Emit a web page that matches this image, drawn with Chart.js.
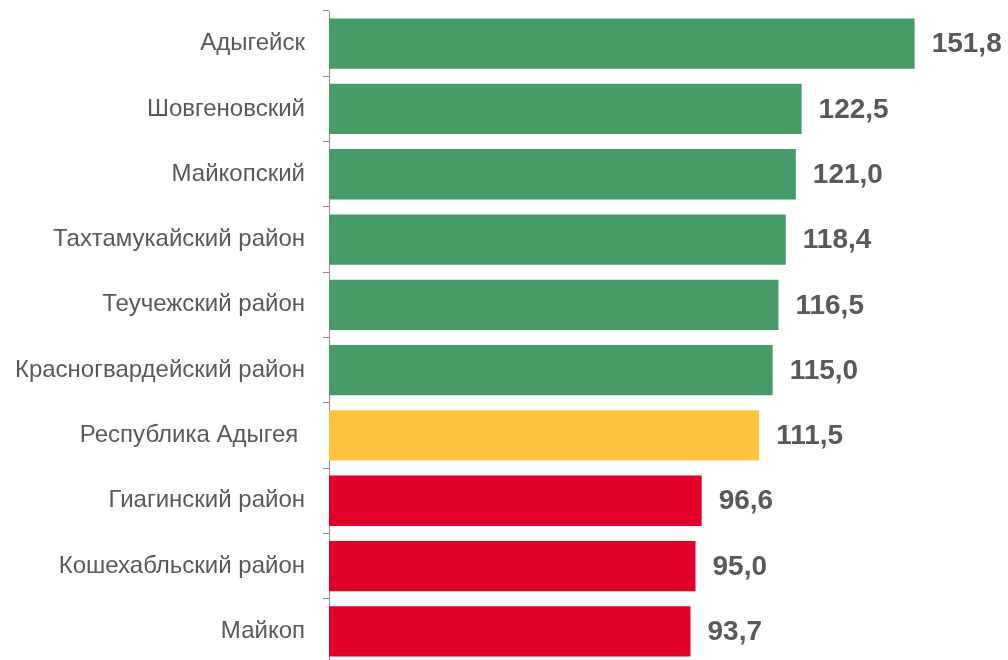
<!DOCTYPE html>
<html><head><meta charset="utf-8">
<script src="https://cdn.jsdelivr.net/npm/chart.js@4"></script>
<style>html,body{margin:0;padding:0;background:#fff;overflow:hidden}#wrap{width:1008px;height:664px}</style>
</head><body><div id="wrap"><canvas id="c"></canvas></div>
<script>
const categories = ["Адыгейск","Шовгеновский","Майкопский","Тахтамукайский район","Теучежский район","Красногвардейский район","Республика Адыгея ","Гиагинский район","Кошехабльский район","Майкоп"];
const values = [151.8,122.5,121.0,118.4,116.5,115.0,111.5,96.6,95.0,93.7];
const barColors = ["#469B68","#469B68","#469B68","#469B68","#469B68","#469B68","#FFC43F","#E2002B","#E2002B","#E2002B"];

const valueLabels = {
  id:'valueLabels',
  afterDatasetsDraw(chart){
    const ctx = chart.ctx;
    const meta = chart.getDatasetMeta(0);
    ctx.save();
    ctx.font = 'bold 28px "Liberation Sans", Arial, sans-serif';
    ctx.fillStyle = '#595959';
    ctx.textAlign = 'left';
    ctx.textBaseline = 'middle';
    meta.data.forEach((bar,i)=>{
      ctx.fillText(values[i].toFixed(1).replace('.',','), bar.x + 17, bar.y + 1);
    });
    ctx.restore();
  }
};

new Chart(document.getElementById('c'), {
  type:'bar',
  data:{labels:categories, datasets:[{data:values, backgroundColor:barColors, borderWidth:0, categoryPercentage:1, barPercentage:0.77}]},
  options:{
    indexAxis:'y', responsive:true, maintainAspectRatio:false, animation:false,
    layout:{padding:{top:11,bottom:0,left:0,right:0}},
    plugins:{legend:{display:false}, tooltip:{enabled:false}},
    scales:{
      x:{display:false, min:0, max:176},
      y:{
        afterFit(s){ s.width = 329; s.paddingTop = 0; s.paddingBottom = 0; },
        border:{display:true,color:'#8C8C8C',width:1},
        grid:{drawOnChartArea:false, drawTicks:true, tickLength:6, color:'#8C8C8C', offset:true},
        ticks:{color:'#595959', padding:18, font:{family:'"Liberation Sans", Arial, sans-serif', size:24}}
      }
    }
  },
  plugins:[valueLabels]
});
</script></body></html>
